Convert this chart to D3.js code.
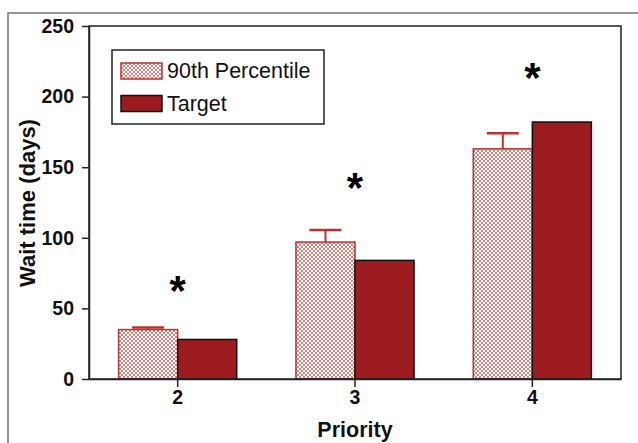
<!DOCTYPE html>
<html>
<head>
<meta charset="utf-8">
<script src="https://cdn.jsdelivr.net/npm/d3@7"></script>
<style>
  body { margin: 0; background: #fff; }
  svg { display: block; font-family: Arial, "Liberation Sans", sans-serif; }
</style>
</head>
<body>
<div id="chart"></div>
<script>
// values
var priorities = ["2", "3", "4"];
var percentile90 = [35, 97, 163];
var percentileErr = [36.5, 105.5, 174];
var target = [28, 84, 182];
var starY = [66, 139, 217];
var yTicks = [0, 50, 100, 150, 200, 250];
var seriesNames = ["90th Percentile", "Target"];

var width = 638, height = 443;
var margin = { top: 26, right: 17, bottom: 64, left: 89 };
var innerW = width - margin.left - margin.right,
    innerH = height - margin.top - margin.bottom;

var svg = d3.select("#chart").append("svg")
    .attr("width", width)
    .attr("height", height);

// dotted fill for the percentile bars
var pat = svg.append("defs").append("pattern")
    .attr("id", "dots")
    .attr("patternUnits", "userSpaceOnUse")
    .attr("width", 4).attr("height", 4);
pat.append("rect").attr("width", 4).attr("height", 4).attr("fill", "#fff");
pat.append("circle").attr("cx", 1).attr("cy", 1).attr("r", 0.9).attr("fill", "#c9463d");
pat.append("circle").attr("cx", 3).attr("cy", 3).attr("r", 0.9).attr("fill", "#c9463d");

// outer frame of the figure
svg.append("rect")
    .attr("x", 8).attr("y", 13)
    .attr("width", 650).attr("height", 450)
    .attr("fill", "none")
    .attr("stroke", "#777")
    .attr("stroke-width", 1.5);

var g = svg.append("g")
    .attr("transform", "translate(" + margin.left + "," + margin.top + ")");

var x = d3.scaleBand().domain(priorities).range([0, innerW]).paddingInner(0.334).paddingOuter(0.167);
var y = d3.scaleLinear().domain([0, 250]).range([innerH, 0]);

var barW = x.bandwidth() / 2;
var red = "#c0302b", dark = "#9c1b1f";

// percentile bars with error bars
var pg = g.selectAll(".pct").data(priorities).enter().append("g").attr("class", "pct");
pg.append("line")
    .attr("x1", function (d) { return x(d) + barW / 2; })
    .attr("x2", function (d) { return x(d) + barW / 2; })
    .attr("y1", function (d, i) { return y(percentile90[i]); })
    .attr("y2", function (d, i) { return y(percentileErr[i]); })
    .attr("stroke", red).attr("stroke-width", 2);
pg.append("line")
    .attr("x1", function (d) { return x(d) + barW / 2 - 16; })
    .attr("x2", function (d) { return x(d) + barW / 2 + 16; })
    .attr("y1", function (d, i) { return y(percentileErr[i]); })
    .attr("y2", function (d, i) { return y(percentileErr[i]); })
    .attr("stroke", red).attr("stroke-width", 2.5);
pg.append("rect")
    .attr("x", function (d) { return x(d); })
    .attr("y", function (d, i) { return y(percentile90[i]); })
    .attr("width", barW)
    .attr("height", function (d, i) { return innerH - y(percentile90[i]); })
    .attr("fill", "url(#dots)")
    .attr("stroke", red).attr("stroke-width", 1.5);

// target bars
g.selectAll(".tgt").data(priorities).enter().append("rect")
    .attr("class", "tgt")
    .attr("x", function (d) { return x(d) + barW; })
    .attr("y", function (d, i) { return y(target[i]); })
    .attr("width", barW)
    .attr("height", function (d, i) { return innerH - y(target[i]); })
    .attr("fill", dark)
    .attr("stroke", "#111").attr("stroke-width", 1.5);

// significance stars
g.selectAll(".star").data(priorities).enter().append("text")
    .attr("class", "star")
    .attr("x", function (d) { return x(d) + barW; })
    .attr("y", function (d, i) { return y(starY[i]) + 19; })
    .attr("text-anchor", "middle")
    .attr("font-size", 42)
    .attr("font-weight", "bold")
    .attr("fill", "#000")
    .text("*");

// plot frame
g.append("rect")
    .attr("width", innerW).attr("height", innerH)
    .attr("fill", "none")
    .attr("stroke", "#222").attr("stroke-width", 1.5);

// axes
var yAxis = g.append("g")
    .call(d3.axisLeft(y).tickValues(yTicks).tickSize(7).tickSizeOuter(0).tickPadding(8));
var xAxis = g.append("g")
    .attr("transform", "translate(0," + innerH + ")")
    .call(d3.axisBottom(x).tickSize(8).tickSizeOuter(0).tickPadding(3));
xAxis.selectAll(".tick line").attr("transform", "translate(" + (-x.bandwidth() / 2 + barW) + ",0)");
[yAxis, xAxis].forEach(function (a) {
    a.select(".domain").attr("stroke", "#222").attr("stroke-width", 1.5);
    a.selectAll(".tick line").attr("stroke", "#222").attr("stroke-width", 1.5);
    a.selectAll(".tick text")
        .attr("fill", "#111")
        .attr("font-size", 19.5)
        .attr("font-weight", "bold")
        .attr("font-family", "Arial, 'Liberation Sans', sans-serif");
});

// axis titles
svg.append("text")
    .attr("transform", "translate(35,203) rotate(-90)")
    .attr("text-anchor", "middle")
    .attr("font-size", 22)
    .attr("font-weight", "bold")
    .attr("fill", "#111")
    .text("Wait time (days)");
svg.append("text")
    .attr("x", margin.left + innerW / 2)
    .attr("y", 437)
    .attr("text-anchor", "middle")
    .attr("font-size", 21.5)
    .attr("font-weight", "bold")
    .attr("fill", "#111")
    .text("Priority");

// legend
var lg = svg.append("g").attr("transform", "translate(112,50)");
lg.append("rect")
    .attr("width", 212).attr("height", 74)
    .attr("fill", "#fff")
    .attr("stroke", "#222").attr("stroke-width", 1.5);
var items = lg.selectAll(".item").data(seriesNames).enter().append("g")
    .attr("transform", function (d, i) { return "translate(9," + (13 + i * 32.5) + ")"; });
items.append("rect")
    .attr("width", 41).attr("height", 16)
    .attr("fill", function (d, i) { return i === 0 ? "url(#dots)" : dark; })
    .attr("stroke", function (d, i) { return i === 0 ? red : "#111"; })
    .attr("stroke-width", 1.5);
items.append("text")
    .attr("x", 46).attr("y", 15)
    .attr("font-size", 21.5)
    .attr("fill", "#111")
    .text(function (d) { return d; });
</script>
</body>
</html>
